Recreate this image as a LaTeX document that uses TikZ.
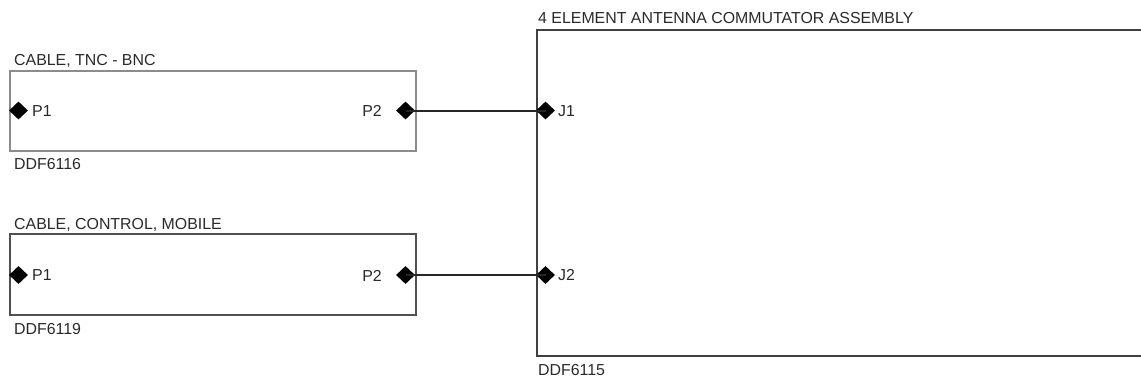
\documentclass[tikz,border=0pt]{standalone}
\usepackage{fontspec}
\setmainfont{Liberation Sans}
\usetikzlibrary{shapes.geometric}
\definecolor{txt}{HTML}{2A2A2A}
\definecolor{boxa}{HTML}{8C8C8C}
\definecolor{boxb}{HTML}{505050}
\definecolor{boxc}{HTML}{404040}
\tikzset{
  lbl/.style={font=\fontsize{15.9}{18}\selectfont, text=txt, inner sep=0pt},
  unit/.style={draw, line width=1.5pt, inner sep=0pt, anchor=north west},
  pin/.style={diamond, fill=black, inner sep=0pt, minimum width=19pt, minimum height=18pt},
  wire/.style={line width=2pt, draw=black!85}
}
\begin{document}
\begin{tikzpicture}[x=1pt,y=-1pt]
\useasboundingbox (0,0) rectangle (1141,381);
% boxes
\node[unit, draw=boxa, minimum width=406pt, minimum height=80pt] (c1) at (9,70) {};
\node[unit, draw=boxb, minimum width=406pt, minimum height=81pt] (c2) at (9,233) {};
\node[unit, draw=boxc, line width=2pt, minimum width=700pt, minimum height=326pt] (asm) at (536,29) {};
% titles
\node[lbl, anchor=base west] (t1) at (14,65) {CABLE, TNC - BNC};
\node[lbl, anchor=base west] (d1) at (14,169) {DDF6116};
\node[lbl, anchor=base west] (t2) at (14,229) {CABLE, CONTROL, MOBILE};
\node[lbl, anchor=base west] (d2) at (14,334) {DDF6119};
\node[lbl, anchor=base west] (t3) at (538,23) {4 ELEMENT ANTENNA COMMUTATOR ASSEMBLY};
\node[lbl, anchor=base west] (d3) at (538,375) {DDF6115};
% pins
\node[pin] (c1p1) at (18.5,110.5) {};
\node[pin] (c1p2) at (405.5,110.5) {};
\node[pin] (j1) at (545.5,110.5) {};
\node[pin] (c2p1) at (18.5,275) {};
\node[pin] (c2p2) at (405.5,275) {};
\node[pin] (j2) at (545.5,275) {};
% pin labels
\node[lbl, anchor=west] (l1) at (32,111) {P1};
\node[lbl, anchor=east] (l2) at (382,111) {P2};
\node[lbl, anchor=west] (l3) at (558,111) {J1};
\node[lbl, anchor=west] (l4) at (32,275.5) {P1};
\node[lbl, anchor=east] (l5) at (382,275.5) {P2};
\node[lbl, anchor=west] (l6) at (558,275.5) {J2};
% wires
\draw[wire] (c1p2.center) -- (j1.center);
\draw[wire] (c2p2.center) -- (j2.center);
\end{tikzpicture}
\end{document}
